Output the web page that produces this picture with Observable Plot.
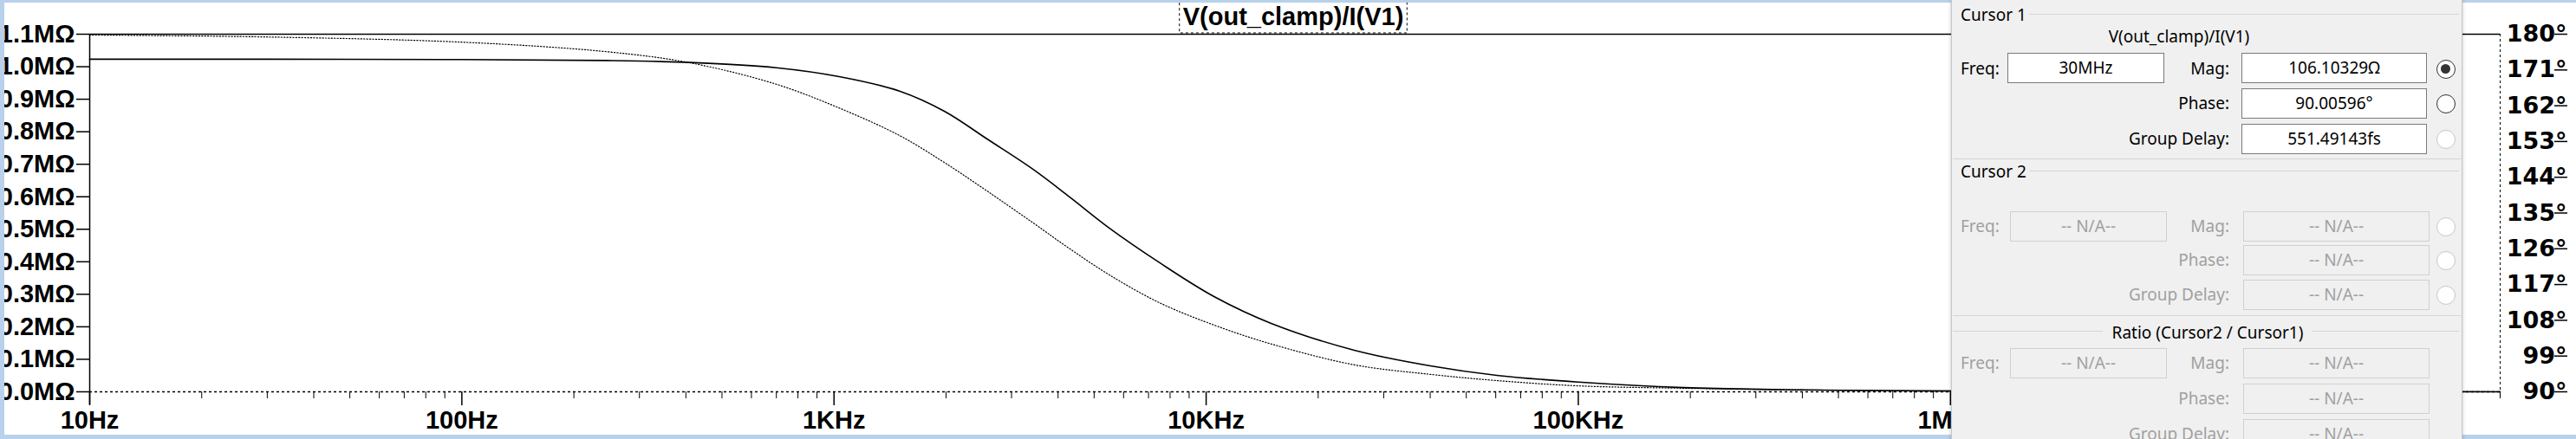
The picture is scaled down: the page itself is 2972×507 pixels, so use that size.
<!DOCTYPE html>
<html><head><meta charset="utf-8">
<script src="https://cdn.jsdelivr.net/npm/d3@7"></script>
<script src="https://cdn.jsdelivr.net/npm/@observablehq/plot@0.6"></script>
<style>
body{margin:0;background:#fff;width:2972px;height:507px;overflow:hidden;position:relative;font-family:"Liberation Sans",Arial,sans-serif}
#chart{position:absolute;left:0;top:0}
.bd{position:absolute;background:#b9d1ea}
#dlg{position:absolute;left:2251px;top:0;width:588px;height:520px;background:#f0f0f0;border-left:1px solid #c8c8c8;border-right:1px solid #c8c8c8;box-shadow:0 0 4px rgba(0,0,0,.25);font-family:"Noto Sans","Liberation Sans",sans-serif;font-size:19px;color:#000}
#dlg .a{position:absolute;white-space:nowrap;line-height:1}
#dlg .box{position:absolute;height:35px;box-sizing:border-box;border:1px solid #7a7a7a;background:#fff;text-align:center;line-height:33px}
#dlg .dis{color:#a0a0a0}
#dlg .dbox{border-color:#d0d0d0;background:#f0f0f0;color:#a0a0a0}
#dlg .hr{position:absolute;height:1px;background:#d5d5d5}
#dlg .rad{position:absolute;width:22px;height:22px;box-sizing:border-box;border-radius:50%;border:1.5px solid #333;background:#fff}
#dlg .rad.off{border-color:#c8c8c8}
#dlg .rad.sel::after{content:"";position:absolute;left:4px;top:4px;width:11px;height:11px;border-radius:50%;background:#333}
</style></head><body>
<div id="chart"></div>
<div class="bd" style="left:0;top:0;width:2972px;height:3px"></div>
<div class="bd" style="left:0;top:0;width:5px;height:507px"></div>
<div class="bd" style="left:0;top:502px;width:2972px;height:5px"></div>
<div id="dlg"></div>
<script>
const freq  = [10, 30, 100, 245, 410, 700, 1040, 1500, 1980, 2600, 3430, 4300, 5500, 7500, 10500, 15000, 25000, 40000, 61000, 100000, 192000, 400000, 835000, 3000000, 30000000];
const magM  = [1.023, 1.023, 1.022, 1.019, 1.013, 0.997, 0.969, 0.925, 0.863, 0.775, 0.684, 0.599, 0.503, 0.397, 0.293, 0.210, 0.128, 0.080, 0.050, 0.030, 0.013, 0.006, 0.003, 0.001, 0.0001];
const phase = [179.8, 179.3, 178.0, 175.6, 172.8, 167.4, 161.3, 154.5, 147.7, 140.3, 132.5, 126.0, 119.4, 112.4, 106.8, 102.0, 96.8, 94.4, 92.8, 91.5, 90.9, 90.5, 90.2, 90.05, 90.006];
const magTicks = [0, 0.1, 0.2, 0.3, 0.4, 0.5, 0.6, 0.7, 0.8, 0.9, 1.0, 1.1];
const phaseTicks = [90, 99, 108, 117, 126, 135, 144, 153, 162, 171, 180];
const decades = [10, 100, 1e3, 1e4, 1e5, 1e6, 1e7];
const decadeLabels = ["10Hz", "100Hz", "1KHz", "10KHz", "100KHz", "1MHz", "10MHz"];
const title = "V(out_clamp)/I(V1)";

const pToY = p => (p - 90) / 90 * 1.1;
const yToP = y => Math.round(y / 1.1 * 90 + 90);
const minors = [];
for (const d of decades) for (let k = 2; k <= 9; k++) if (d * k <= 3e7) minors.push(d * k);
const data = freq.map((f, i) => ({f, m: magM[i], p: pToY(phase[i])}));

const W = 2972, H = 507;
const plot = Plot.plot({
  width: W, height: H,
  marginLeft: 103, marginRight: 88, marginTop: 39, marginBottom: 55,
  style: {fontFamily: "Liberation Sans, Arial, sans-serif", fontSize: "29px", fontWeight: "bold", color: "#000", background: "transparent"},
  x: {type: "log", domain: [10, 3e7]},
  y: {domain: [0, 1.1]},
  marks: [
    Plot.ruleY([1.1], {stroke: "#000", strokeWidth: 1.5}),
    Plot.ruleY([0], {stroke: "#000", strokeDasharray: "3,3", strokeWidth: 1.5}),
    Plot.ruleX([3e7], {stroke: "#000", strokeDasharray: "3,3", strokeWidth: 1}),
    Plot.ruleX([10], {y1: -0.04, y2: 1.1, stroke: "#000", strokeWidth: 1.5}),
    Plot.axisY({ticks: magTicks, tickSize: 15, tickPadding: 2, tickFormat: d => d.toFixed(1) + "MΩ", label: null, strokeWidth: 1.5}),
    Plot.axisY({anchor: "right", ticks: phaseTicks.map(pToY), tickSize: 15, tickPadding: 0, textAnchor: "end", dx: 62, fontFamily: "DejaVu Sans", fontSize: 27, tickFormat: d => yToP(d) + "°", label: null, strokeWidth: 1.5}),
    Plot.axisX({ticks: decades, tickSize: 16, tickPadding: 6, tickFormat: d => decadeLabels[decades.indexOf(d)], label: null, strokeWidth: 1.5}),
    Plot.axisX({ticks: minors, tickSize: 8, tickFormat: () => "", label: null}),
    Plot.line(data, {x: "f", y: "p", stroke: "#000", strokeWidth: 1.2, strokeDasharray: "1.2,2.2", curve: "catmull-rom"}),
    Plot.line(data, {x: "f", y: "m", stroke: "#000", strokeWidth: 1.6, curve: "catmull-rom"})
  ]
});
document.getElementById("chart").appendChild(plot);

// title box
const svg = d3.select(plot);
const tt = svg.append("text").attr("x", 1492).attr("y", 29).attr("text-anchor", "middle")
  .attr("font-size", 29).attr("font-weight", "bold").attr("font-family", "Liberation Sans, Arial, sans-serif").text(title);
const bb = tt.node().getBBox();
svg.append("rect").attr("x", bb.x - 4).attr("y", 1).attr("width", bb.width + 8).attr("height", 37)
  .attr("fill", "#fff").attr("stroke", "#000").attr("stroke-dasharray", "3,3");
tt.raise();

// cursor dialog (offsets relative to dialog left 2251)
const dlg = document.getElementById("dlg");
const L = 2251;
function a(html, x, y, cls = "", anchor = "left") {
  const e = document.createElement("div"); e.className = "a " + cls; e.innerHTML = html;
  e.style.top = (y - 10) + "px";
  if (anchor === "left") e.style.left = (x - L) + "px";
  else if (anchor === "right") { e.style.right = (L + 588 - x) + "px"; }
  else { e.style.left = (x - L - 200) + "px"; e.style.width = "400px"; e.style.textAlign = "center"; }
  dlg.appendChild(e);
}
function box(txt, x1, x2, cy, dis) {
  const e = document.createElement("div"); e.className = "box" + (dis ? " dbox" : ""); e.textContent = txt;
  e.style.left = (x1 - L) + "px"; e.style.width = (x2 - x1) + "px"; e.style.top = (cy - 18) + "px"; dlg.appendChild(e);
}
function hr(x1, x2, y) { const e = document.createElement("div"); e.className = "hr"; e.style.left = (x1 - L) + "px"; e.style.width = (x2 - x1) + "px"; e.style.top = y + "px"; dlg.appendChild(e); }
function rad(cy, cls) { const e = document.createElement("div"); e.className = "rad " + cls; e.style.left = (2821 - 11 - L) + "px"; e.style.top = (cy - 11) + "px"; dlg.appendChild(e); }

hr(2340, 2836, 16); a("Cursor 1", 2261, 18);
a(title, 2513, 43, "", "center");
a("Freq:", 2261, 80); box("30MHz", 2315, 2496, 79);
a("Mag:", 2571, 80, "", "right"); box("106.10329Ω", 2585, 2799, 79); rad(80, "sel");
a("Phase:", 2571, 120, "", "right"); box("90.00596°", 2585, 2799, 120); rad(120, "");
a("Group Delay:", 2571, 161, "", "right"); box("551.49143fs", 2585, 2799, 161); rad(161, "off");
hr(2252, 2838, 183);
hr(2340, 2836, 197); a("Cursor 2", 2261, 199);
a("Freq:", 2261, 262, "dis"); box("-- N/A--", 2318, 2499, 262, true);
a("Mag:", 2571, 262, "dis", "right"); box("-- N/A--", 2587, 2802, 262, true); rad(262, "off");
a("Phase:", 2571, 301, "dis", "right"); box("-- N/A--", 2587, 2802, 301, true); rad(301, "off");
a("Group Delay:", 2571, 341, "dis", "right"); box("-- N/A--", 2587, 2802, 341, true); rad(341, "off");
hr(2252, 2838, 364);
hr(2252, 2425, 382); hr(2666, 2836, 382);
a("Ratio (Cursor2 / Cursor1)", 2546, 385, "", "center");
a("Freq:", 2261, 420, "dis"); box("-- N/A--", 2318, 2499, 420, true);
a("Mag:", 2571, 420, "dis", "right"); box("-- N/A--", 2587, 2802, 420, true);
a("Phase:", 2571, 461, "dis", "right"); box("-- N/A--", 2587, 2802, 461, true);
a("Group Delay:", 2571, 502, "dis", "right"); box("-- N/A--", 2587, 2802, 502, true);
</script>
</body></html>
